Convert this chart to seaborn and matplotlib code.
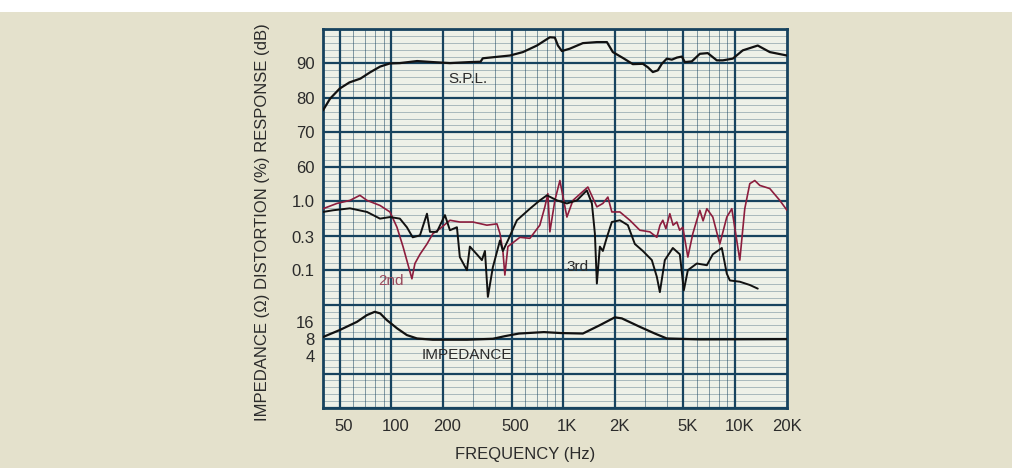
import numpy as np
import matplotlib
matplotlib.use("Agg")
import matplotlib.pyplot as plt
import matplotlib.transforms as mtransforms
import seaborn as sns

# S.P.L. response (dB)
spl_freq = [40, 44, 50, 57, 66, 75, 86, 98, 112, 141, 174, 219, 286, 330, 340, 489, 582, 702, 835, 893,
            930, 981, 1092, 1299, 1568, 1793, 1941, 2220, 2537, 2901, 3100, 3316, 3545, 3740, 4000, 4277,
            4573, 4890, 5091, 5589, 6223, 6920, 7811, 8468, 9676, 11060, 13520, 15890, 20000]
spl_db = [76.4, 79.8, 82.7, 84.5, 85.6, 87.4, 89.1, 90.0, 90.1, 90.7, 90.4, 90.1, 90.4, 90.5, 91.5, 92.3,
          93.3, 95.2, 97.6, 97.5, 95.2, 93.6, 94.3, 95.9, 96.2, 96.2, 93.3, 91.6, 89.8, 89.9, 88.9, 87.5,
          88.0, 89.9, 91.4, 91.1, 91.7, 92.0, 90.4, 90.6, 92.8, 93.0, 90.9, 90.9, 91.4, 93.8, 95.2, 93.3, 92.3]

# 2nd harmonic distortion (%)
thd2_freq = [40, 48.2, 57.4, 65.6, 72.1, 85.8, 98.1, 107.7, 116.8, 131.6, 137, 146.6, 161, 174.4, 191.5,
             219, 250, 298, 359, 411, 428, 445, 457, 476, 559, 639, 730, 781, 813, 835, 893, 955, 1049,
             1137, 1389, 1567, 1698, 1816, 1915, 2133, 2438, 2787, 3186, 3499, 3650, 3791, 3950, 4164,
             4350, 4573, 4750, 4956, 5300, 5667, 6000, 6223, 6500, 6836, 7405, 8132, 8931, 9552, 10630,
             11360, 12150, 12990, 13890, 15880, 18160, 20000]
thd2 = [0.78, 0.93, 1.03, 1.22, 1.03, 0.87, 0.70, 0.42, 0.22, 0.075, 0.125, 0.17, 0.24, 0.34, 0.40, 0.53,
        0.50, 0.50, 0.45, 0.47, 0.34, 0.19, 0.085, 0.22, 0.30, 0.29, 0.45, 0.83, 1.29, 0.36, 1.03, 2.0,
        0.59, 1.03, 1.61, 0.83, 0.93, 1.15, 0.70, 0.70, 0.53, 0.38, 0.36, 0.30, 0.45, 0.53, 0.40, 0.66,
        0.45, 0.50, 0.38, 0.42, 0.155, 0.34, 0.55, 0.74, 0.52, 0.78, 0.59, 0.24, 0.59, 0.78, 0.14, 0.78,
        1.8, 2.0, 1.7, 1.53, 1.03, 0.74]

# 3rd harmonic distortion (%)
thd3_freq = [40, 45.7, 57.4, 72.1, 85.8, 98.1, 112, 123, 133, 146.6, 161, 167.6, 184, 204.8, 219, 240.5,
             250, 275, 286, 314, 336, 350, 364, 389, 428, 445, 476, 537, 639, 730, 803, 918, 1049, 1199,
             1370, 1466, 1526, 1567, 1631, 1698, 1792, 1915, 2133, 2373, 2606, 2901, 3272, 3499, 3643,
             3894, 4335, 4761, 5023, 5300, 5977, 6836, 7405, 8353, 8931, 9300, 10630, 12150, 13520]
thd3 = [0.70, 0.74, 0.79, 0.70, 0.56, 0.59, 0.56, 0.42, 0.30, 0.32, 0.66, 0.36, 0.36, 0.63, 0.38, 0.42,
        0.155, 0.10, 0.22, 0.17, 0.14, 0.19, 0.041, 0.11, 0.27, 0.19, 0.27, 0.53, 0.78, 1.03, 1.22, 1.03,
        0.93, 1.03, 1.44, 0.93, 0.34, 0.064, 0.22, 0.19, 0.30, 0.50, 0.53, 0.45, 0.24, 0.19, 0.14, 0.08,
        0.048, 0.14, 0.21, 0.17, 0.051, 0.10, 0.125, 0.118, 0.17, 0.21, 0.089, 0.071, 0.068, 0.061, 0.054]

# impedance (ohms)
imp_freq = [40, 50, 63, 72, 80, 86, 94, 108, 123, 141, 174, 275, 389, 457, 552, 771, 968, 1299, 1631,
            1994, 2190, 2787, 3407, 4000, 6223, 20000]
imp_ohm = [8.7, 11.5, 16, 21, 24, 22.5, 17.2, 12.3, 9.4, 8.2, 7.8, 7.8, 8.1, 9.0, 10, 10.6, 10.2, 10, 14,
           19.2, 18.4, 13.1, 10, 8.2, 7.9, 8.0]

x_ticks = [50, 100, 200, 500, 1000, 2000, 5000, 10000, 20000]
x_labels = ["50", "100", "200", "500", "1K", "2K", "5K", "10K", "20K"]
spl_ticks = [90, 80, 70, 60]
thd_ticks = [1.0, 0.3, 0.1]
thd_labels = ["1.0", "0.3", "0.1"]
imp_ticks = [16, 8, 4]


# the chart paper has one shared grid of 11 rows; each scale sits in its own band
def spl_row(db):
    return 10 + (np.asarray(db) - 90) / 10


def thd_row(p):
    return 6 + 2 * np.log10(p)


def imp_row(z):
    return 2 + 0.5 * np.log2(np.asarray(z) / 8)


sns.set_style("white")
plt.rcParams["font.family"] = ["Liberation Sans", "DejaVu Sans"]

grid_col = "#17435f"
ink = "#2b2b2b"
maroon = "#8c1d3d"

fig = plt.figure(figsize=(10.21, 4.68), dpi=100)
fig.patch.set_facecolor("white")
fig.add_artist(plt.Rectangle((0, 0), 1012 / 1021, 456 / 468, transform=fig.transFigure,
                             facecolor="#e4e1cc", edgecolor="none", zorder=0))

ax = fig.add_axes([323 / 1021, 60 / 468, 464 / 1021, 379 / 468])
ax.set_facecolor("#eef1e8")
ax.set_xscale("log")
ax.set_xlim(40, 20000)
ax.set_ylim(0, 11)

# paper grid
for r in np.arange(0, 11, 0.2):
    ax.axhline(r, color=grid_col, lw=0.5, alpha=0.45, zorder=1)
for r in range(12):
    ax.axhline(r, color=grid_col, lw=1.6, zorder=2)
for dec in [10, 100, 1000, 10000]:
    for m in range(1, 10):
        f = m * dec
        if 40 < f < 20000:
            ax.axvline(f, color=grid_col, lw=0.6, alpha=0.6, zorder=1)
for f in x_ticks[:-1]:
    ax.axvline(f, color=grid_col, lw=1.6, zorder=2)

for s in ax.spines.values():
    s.set_color(grid_col)
    s.set_linewidth(2)

sns.lineplot(x=spl_freq, y=spl_row(spl_db), ax=ax, color="#111111", lw=1.6, estimator=None, zorder=5)
sns.lineplot(x=thd2_freq, y=thd_row(thd2), ax=ax, color=maroon, lw=1.2, estimator=None, zorder=5)
sns.lineplot(x=thd3_freq, y=thd_row(thd3), ax=ax, color="#111111", lw=1.4, estimator=None, zorder=6)
sns.lineplot(x=imp_freq, y=imp_row(imp_ohm), ax=ax, color="#111111", lw=1.6, estimator=None, zorder=5)

ax.text(279, 9.55, "S.P.L.", fontsize=11, color=ink, ha="center", va="center", zorder=7)
ax.text(99.5, 3.69, "2nd", fontsize=11, color="#9a4a5c", ha="center", va="center", zorder=7)
ax.text(1215, 4.09, "3rd", fontsize=11, color=ink, ha="center", va="center", zorder=7)
ax.text(275, 1.54, "IMPEDANCE", fontsize=11, color=ink, ha="center", va="center", zorder=7)

# composite left scale
y_pos = list(spl_row(spl_ticks)) + list(thd_row(thd_ticks)) + list(imp_row(imp_ticks))
y_lab = [str(v) for v in spl_ticks] + thd_labels + [str(v) for v in imp_ticks]
ax.set_yticks(y_pos)
ax.set_yticklabels(y_lab)
ax.set_xticks(x_ticks)
ax.set_xticklabels(x_labels)
ax.minorticks_off()
ax.tick_params(axis="both", length=0, labelsize=12, labelcolor=ink)
ax.tick_params(axis="y", pad=6)
ax.tick_params(axis="x", pad=8)
shift = mtransforms.ScaledTranslation(4 / 100, 0, fig.dpi_scale_trans)
for lab in ax.get_xticklabels()[:-1]:
    lab.set_transform(lab.get_transform() + shift)

fig.text(525 / 1021, 1 - 455 / 468, "FREQUENCY (Hz)", fontsize=12, color=ink, ha="center", va="center")
fig.text(262 / 1021, 1 - 222 / 468, "IMPEDANCE (\u03a9) DISTORTION (%) RESPONSE (dB)", fontsize=12,
         color=ink, ha="center", va="center", rotation=90)

fig.savefig("out.png", dpi=100, facecolor=fig.get_facecolor())
